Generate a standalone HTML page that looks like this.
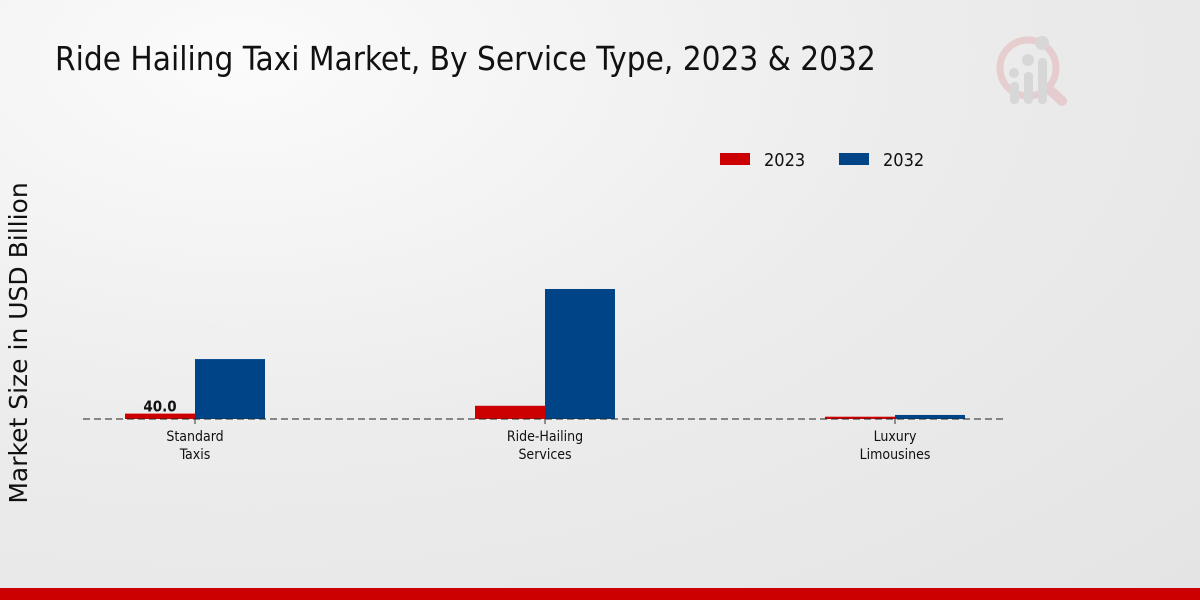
<!DOCTYPE html>
<html><head><meta charset="utf-8"><style>
body{margin:0;width:1200px;height:600px;overflow:hidden;font-family:"DejaVu Sans Condensed","Liberation Sans",sans-serif;}
#bg{position:absolute;left:0;top:0;width:1200px;height:600px;background:radial-gradient(ellipse at 20% 10%,#fbfbfb 0%,#ececec 50%,#e4e4e4 100%);}
</style></head><body>
<div id="bg"></div>
<svg id="c" width="1200" height="600" style="position:absolute;left:0;top:0">
<text x="55" y="70" font-size="33" fill="#111" font-family="DejaVu Sans Condensed, Liberation Sans, sans-serif">Ride Hailing Taxi Market, By Service Type, 2023 &amp; 2032</text>
<g opacity="0.55">
<circle cx="1028" cy="68" r="28" fill="none" stroke="#e2b5b8" stroke-width="7"/>
<line x1="1050" y1="90" x2="1062" y2="101" stroke="#e2b5b8" stroke-width="10" stroke-linecap="round"/>
<rect x="1010" y="82" width="9" height="22" rx="4" fill="#c8c8c8"/>
<rect x="1024" y="72" width="9" height="32" rx="4" fill="#c8c8c8"/>
<rect x="1038" y="58" width="9" height="46" rx="4" fill="#c8c8c8"/>
<circle cx="1014" cy="73" r="5" fill="#c8c8c8"/><circle cx="1028" cy="60" r="6" fill="#c8c8c8"/><circle cx="1042" cy="43" r="7" fill="#c8c8c8"/>
</g>
<g>
<rect x="720" y="153" width="30" height="12" fill="#cc0000"/>
<text x="764" y="166" font-size="18" fill="#111">2023</text>
<rect x="839" y="153" width="30" height="12" fill="#004488"/>
<text x="883" y="166" font-size="18" fill="#111">2032</text>
</g>
<text transform="translate(27,343) rotate(-90)" text-anchor="middle" font-size="25" fill="#111" font-family="DejaVu Sans, Liberation Sans, sans-serif">Market Size in USD Billion</text>
<g id="plot"></g>
</svg>
<script>
const categories=[["Standard","Taxis"],["Ride-Hailing","Services"],["Luxury","Limousines"]];
const values2023=[40,98,17];
const values2032=[444,963,30];
const labelShown=[true,false,false];
const baseY=419, pxPerUnit=0.135, x0=195, step=350, barW=70;
const ns="http://www.w3.org/2000/svg";
const plot=document.getElementById('plot');
function yScale(v){return baseY-v*pxPerUnit;}
function xCenter(i){return x0+i*step;}
function mk(t,a){const e=document.createElementNS(ns,t);for(const k in a)e.setAttribute(k,a[k]);plot.appendChild(e);return e;}
categories.forEach((cat,i)=>{
  const cx=xCenter(i);
  const r1=mk('rect',{x:cx-barW,y:yScale(values2023[i]),width:barW,height:baseY-yScale(values2023[i]),fill:'#cc0000'});
  
  
  const r2=mk('rect',{x:cx,y:yScale(values2032[i]),width:barW,height:baseY-yScale(values2032[i]),fill:'#004488'});
  
  
  if(labelShown[i]){
    const t=mk('text',{x:cx-35,y:yScale(values2023[i])-2,'text-anchor':'middle','font-size':'15','font-weight':'bold',fill:'#111'});
    t.textContent=values2023[i].toFixed(1);
    
    
  }
  const tk=mk('line',{x1:cx,x2:cx,y1:baseY,y2:baseY+5,stroke:'#333'});
  
  
  cat.forEach((ln,j)=>{
    const t=mk('text',{x:cx,y:441+j*18,'text-anchor':'middle','font-size':'14',fill:'#111'});
    t.textContent=ln;
    
    
  });
});
const ax=mk('line',{x1:83,x2:1007,y1:baseY,y2:baseY,stroke:'#222','stroke-dasharray':'7,4'});


</script>
<div style="position:absolute;left:0;top:588px;width:1200px;height:12px;background:#cc0000"></div>
</body></html>
